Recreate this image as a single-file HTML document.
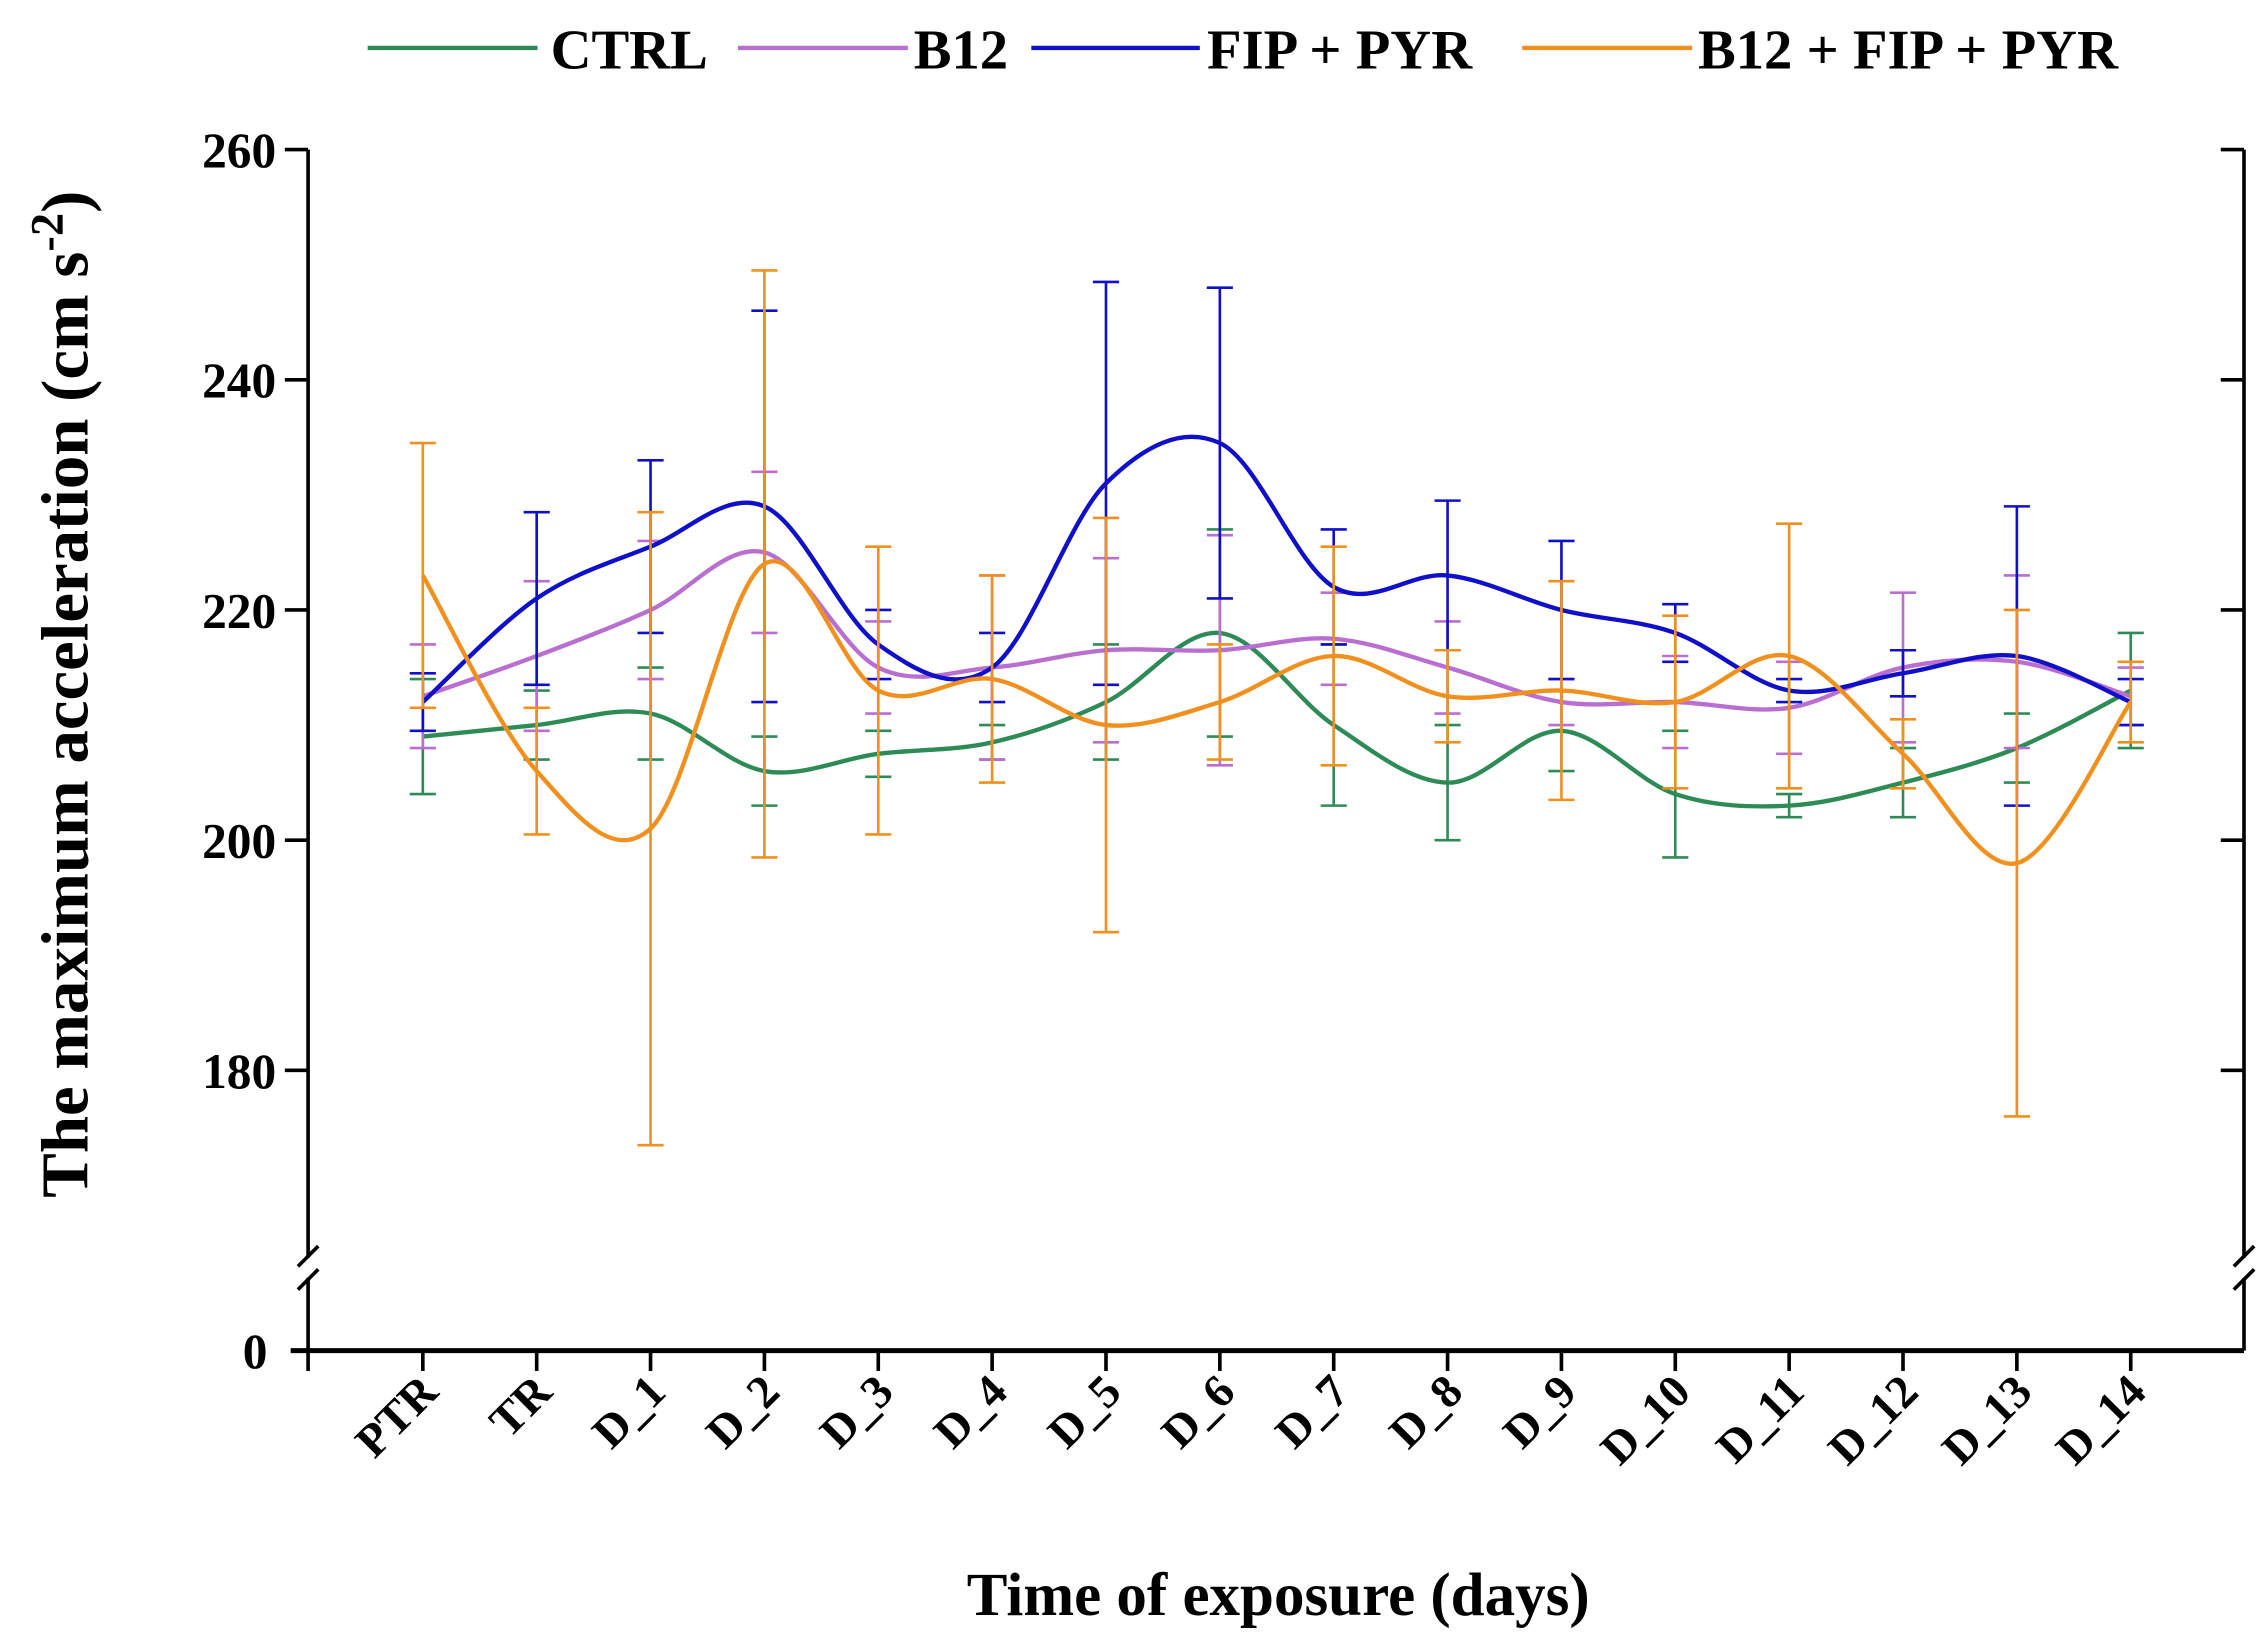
<!DOCTYPE html>
<html><head><meta charset="utf-8"><style>
html,body{margin:0;padding:0;background:#fff}
svg{display:block}
text{font-family:"Liberation Serif",serif;font-weight:bold;fill:#000}
</style></head><body>
<svg id="chart" width="2266" height="1644" viewBox="0 0 1560 1132" xmlns="http://www.w3.org/2000/svg">
<g id="legend">
 <g><line x1="253" y1="33" x2="370" y2="33" stroke="#2e8b57" stroke-width="3"/><text x="379" y="47" font-size="39">CTRL</text></g>
 <g><line x1="508" y1="33" x2="625" y2="33" stroke="#b86fd0" stroke-width="3"/><text x="629" y="47" font-size="39">B12</text></g>
 <g><line x1="710" y1="33" x2="826" y2="33" stroke="#1010c8" stroke-width="3"/><text x="831" y="47" font-size="39">FIP + PYR</text></g>
 <g><line x1="1048" y1="33" x2="1165" y2="33" stroke="#f0901e" stroke-width="3"/><text x="1169" y="47" font-size="39">B12 + FIP + PYR</text></g>
</g>
<g id="axes"></g>
<g id="series"></g>
<text transform="translate(60,478) rotate(-90)" text-anchor="middle" font-size="46">The maximum acceleration (cm s<tspan dy="-17" font-size="32">-2</tspan><tspan dy="17">)</tspan></text>
<text x="880" y="1112" text-anchor="middle" font-size="42">Time of exposure (days)</text>
</svg>
<script>
const categories=["PTR","TR","D_1","D_2","D_3","D_4","D_5","D_6","D_7","D_8","D_9","D_10","D_11","D_12","D_13","D_14"];
const yTicks=[180,200,220,240,260];
const ctrlVals=[209,210,211,206,207.5,208.5,212,218,210,205,209.5,204,203,205,208,213];
const ctrlErr=[5,3,4,3,2,1.5,5,9,7,5,3.5,5.5,1,3,3,5];
const b12Vals=[212.5,216,220,225,215,215,216.5,216.5,217.5,215,212,212,211.5,215,215.5,212.5];
const b12Err=[4.5,6.5,6,7,4,8,8,10,4,4,2,4,4,6.5,7.5,2.5];
const fipVals=[212,221,225.5,229,217,215,231,234.5,222,223,220,218,213,214.5,216,212];
const fipErr=[2.5,7.5,7.5,17,3,3,17.5,13.5,5,6.5,6,2.5,1,2,13,2];
const comboVals=[223,206,201,224,213,214,210,212,216,212.5,213,212,216,207.5,198,212];
const comboErr=[11.5,5.5,27.5,25.5,12.5,9,18,5,9.5,4,9.5,7.5,11.5,3,22,3.5];

const NS="http://www.w3.org/2000/svg";
const X0=212,X1=1545,Y0=930,YT=103;
const xs=i=>291+78.4*i;
const ys=v=>103+(260-v)*7.925;
function mk(tag,attrs,parent){const e=document.createElementNS(NS,tag);for(const k in attrs)e.setAttribute(k,attrs[k]);parent.appendChild(e);return e;}
const axes=document.getElementById('axes');
let l;
l=mk('path',{d:`M${X0},${YT}V866M${X0},880V${Y0}`,stroke:'#000','stroke-width':2.5,fill:'none'},axes);

l=mk('path',{d:`M${X1},${YT}V866M${X1},880V${Y0}`,stroke:'#000','stroke-width':2.5,fill:'none'},axes);

l=mk('path',{d:`M${X0-7},872L${X0+7},858M${X0-7},888L${X0+7},874M${X1-7},872L${X1+7},858M${X1-7},888L${X1+7},874`,stroke:'#000','stroke-width':2.5,fill:'none'},axes);

l=mk('line',{x1:X0-12,y1:Y0,x2:X1,y2:Y0,stroke:'#000','stroke-width':3.5},axes);

yTicks.forEach(v=>{
 const y=ys(v);
 mk('line',{x1:X0-16,y1:y,x2:X0,y2:y,stroke:'#000','stroke-width':2.5},axes);
 mk('line',{x1:X1-16,y1:y,x2:X1,y2:y,stroke:'#000','stroke-width':2.5},axes);
 const t=mk('text',{x:X0-22,y:y+12,'text-anchor':'end','font-size':34},axes);t.textContent=v;
 
});
const z=mk('text',{x:X0-28,y:Y0+12,'text-anchor':'end','font-size':34},axes);z.textContent='0';

mk('line',{x1:X0,y1:Y0,x2:X0,y2:Y0+14,stroke:'#000','stroke-width':2.5},axes);
categories.forEach((c,i)=>{
 const x=xs(i);
 mk('line',{x1:x,y1:Y0,x2:x,y2:Y0+14,stroke:'#000','stroke-width':2.5},axes);
 const t=mk('text',{transform:`translate(${x+12},${Y0+30}) rotate(-45)`,'text-anchor':'end','font-size':32},axes);
 t.textContent=c;
 
});
const series=document.getElementById('series');
function drawSeries(name,vals,err,color){
 const g=mk('g',{},series);
 
 
 vals.forEach((v,i)=>{
  const x=xs(i),a=ys(v+err[i]),b=ys(v-err[i]);
  const e=mk('path',{d:`M${x},${a}V${b}M${x-9},${a}H${x+9}M${x-9},${b}H${x+9}`,stroke:color,'stroke-width':1.8,fill:'none'},g);
  
  
 });
 const P=vals.map((v,i)=>[xs(i),ys(v)]);
 let d=`M${P[0][0]},${P[0][1]}`;
 for(let i=0;i<P.length-1;i++){
  const p0=P[Math.max(0,i-1)],p1=P[i],p2=P[i+1],p3=P[Math.min(P.length-1,i+2)];
  const c1=[p1[0]+(p2[0]-p0[0])/6,p1[1]+(p2[1]-p0[1])/6];
  const c2=[p2[0]-(p3[0]-p1[0])/6,p2[1]-(p3[1]-p1[1])/6];
  d+=`C${c1[0]},${c1[1]} ${c2[0]},${c2[1]} ${p2[0]},${p2[1]}`;
 }
 const ln=mk('path',{d:d,stroke:color,'stroke-width':3,fill:'none'},g);
 
 
}
drawSeries('ctrl-series',ctrlVals,ctrlErr,'#2e8b57');
drawSeries('b12-series',b12Vals,b12Err,'#b86fd0');
drawSeries('fip-pyr-series',fipVals,fipErr,'#1010c8');
drawSeries('b12-fip-pyr-series',comboVals,comboErr,'#f0901e');
</script>
</body></html>
